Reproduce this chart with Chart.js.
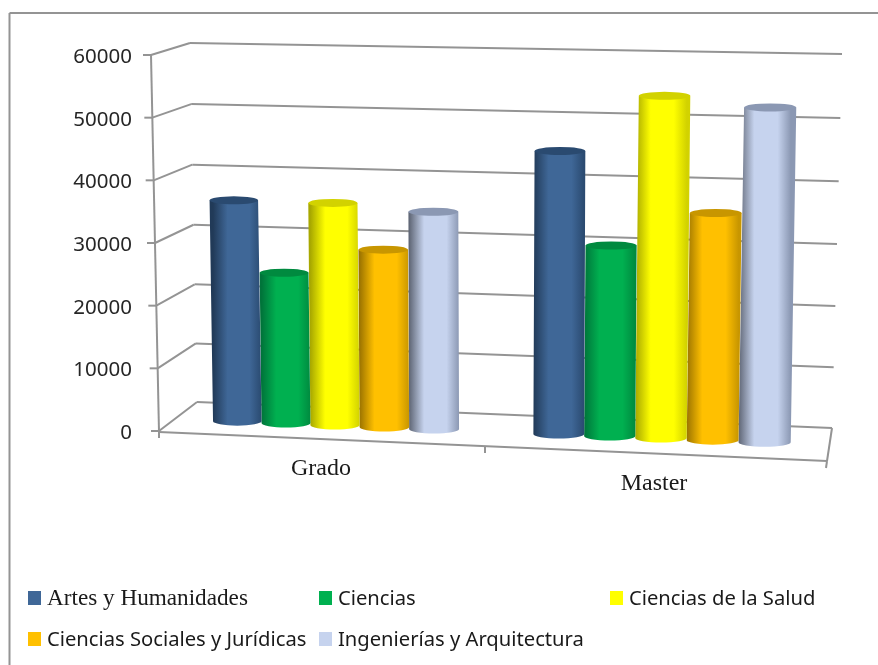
<!DOCTYPE html>
<html>
<head>
    <meta charset="utf-8">
    <title>Grado y Master</title>
    <script src="https://cdn.jsdelivr.net/npm/chart.js"></script>
    <style>
        body { margin: 0; background: white; }
        canvas { display: block; }
    </style>
</head>
<body>
    <canvas id="chart" width="878" height="665"></canvas>
    <script>
        const categories = ['Grado', 'Master'];
        const seriesNames = ['Artes y Humanidades', 'Ciencias', 'Ciencias de la Salud', 'Ciencias Sociales y Jurídicas', 'Ingenierías y Arquitectura'];
        const artes = [35800, 45000];
        const ciencias = [24300, 30200];
        const salud = [35800, 54100];
        const sociales = [28500, 35800];
        const ingenierias = [34800, 52600];
        const tickStep = 10000;
        const tickMax = 60000;

        const seriesValues = [artes, ciencias, salud, sociales, ingenierias];
        const colors = ['#3f6797', '#00b050', '#ffff00', '#ffc000', '#c6d3ee'];
        const edgeColors = ['#213a58', '#00743a', '#a8a800', '#9c7400', '#5f6675'];
        const capColors = ['#2a4a70', '#008a3f', '#d2d200', '#c89600', '#8b98b3'];

        const plotTop = 55, plotBottom = 431;
        const lineColor = '#949494';

        // the plot is a flat Chart.js area, this tilts it to the plane the cylinders stand on
        function project(x, y) {
            const bent = x + 6.9e-5 * (x - 498) * (x - 498) - 1.83;
            const up = plotBottom - y;
            const X = 490 + (bent - 490) * (1 + 0.023 * up / (plotBottom - plotTop));
            const floor = 421 + (bent - 234) * 0.04;
            const k = (370 + (bent - 234) * 0.0224) / 376;
            return { x: X, y: floor - up * k };
        }

        class CylinderBar extends Chart.BarElement {
            static id = 'cylinderBar';
            draw(ctx) {
                const i = colors.indexOf(this.options.backgroundColor);
                const half = this.width / 2;
                const bottom = project(this.x, this.base);
                const top = project(this.x, this.y);
                const rx = (project(this.x + half, this.base).x - project(this.x - half, this.base).x) / 2;

                const grad = ctx.createLinearGradient(bottom.x - rx, 0, bottom.x + rx, 0);
                grad.addColorStop(0, edgeColors[i]);
                grad.addColorStop(0.3, colors[i]);
                grad.addColorStop(0.75, colors[i]);
                grad.addColorStop(1, capColors[i]);

                ctx.save();
                ctx.fillStyle = grad;
                ctx.beginPath();
                ctx.moveTo(top.x - rx, top.y);
                ctx.lineTo(top.x + rx, top.y);
                ctx.lineTo(bottom.x + rx, bottom.y);
                ctx.ellipse(bottom.x, bottom.y, rx, 4.5, 0, 0, Math.PI);
                ctx.closePath();
                ctx.fill();

                ctx.fillStyle = capColors[i];
                ctx.beginPath();
                ctx.ellipse(top.x, top.y, rx, 4, 0, 0, Math.PI * 2);
                ctx.fill();
                ctx.restore();
            }
        }

        class CylinderController extends Chart.BarController {
            static id = 'cylinder';
            static defaults = { ...Chart.BarController.defaults, dataElementType: 'cylinderBar' };
        }

        Chart.register(CylinderBar, CylinderController);

        // ===== WALLS, FLOOR AND GRID =====
        const frame = {
            id: 'frame',
            beforeDatasetsDraw(chart) {
                const { ctx, scales } = chart;
                const line = (x1, y1, x2, y2) => {
                    ctx.beginPath();
                    ctx.moveTo(x1, y1);
                    ctx.lineTo(x2, y2);
                    ctx.stroke();
                };
                ctx.save();
                ctx.strokeStyle = lineColor;
                ctx.lineWidth = 2;
                line(9.5, 13, 878, 13);
                line(9.5, 13, 9.5, 665);

                line(151, 55, 159, 432);
                scales.y.ticks.forEach(t => {
                    const f = t.value / tickMax;
                    const bow = f * (1 - f);
                    const frontY = scales.y.getPixelForValue(t.value);
                    const frontX = 159 - 8 * f;
                    const backLeft = { x: 197 - 7 * f, y: 402 - 359 * f + 9 * bow };
                    const backRight = { x: 832 + 10 * f, y: 428 - 374 * f + 12 * bow };
                    line(frontX - 8, frontY, frontX, frontY);
                    line(frontX, frontY, backLeft.x, backLeft.y);
                    line(backLeft.x, backLeft.y, backRight.x, backRight.y);
                });

                // floor front edge and its ticks
                line(159, 432, 827, 461);
                line(827, 461, 832, 428);
                line(159, 432, 159, 438);
                line(485, 447, 485, 453);
                line(827, 461, 826, 468);
                ctx.restore();
            }
        };

        // ===== CATEGORY LABELS AND LEGEND =====
        const texts = {
            id: 'texts',
            afterDraw(chart) {
                const { ctx, scales } = chart;
                const serif = '"Liberation Serif", serif';
                const sans = '"Noto Sans", sans-serif';
                ctx.save();
                ctx.fillStyle = '#1a1a1a';
                ctx.textBaseline = 'middle';
                ctx.textAlign = 'center';
                ctx.font = '24px ' + serif;
                categories.forEach((name, i) => {
                    const x = 321 + (scales.x.getPixelForTick(i) - 335) * 1.0215;
                    ctx.fillText(name, x, 432 + (x - 159) * 0.0434 + 30);
                });

                ctx.textAlign = 'left';
                const slots = [[28, 598], [319, 598], [610, 598], [28, 639], [319, 639]];
                chart.data.datasets.forEach((ds, i) => {
                    const [x, y] = slots[i];
                    ctx.fillStyle = ds.backgroundColor;
                    ctx.fillRect(x, y - 7, 13, 14);
                    ctx.fillStyle = '#1a1a1a';
                    ctx.font = (i === 0 ? '23.2px ' + serif : '20.2px ' + sans);
                    ctx.fillText(ds.label, x + 19, y + 1);
                });
                ctx.restore();
            }
        };

        new Chart(document.getElementById('chart'), {
            type: 'cylinder',
            data: {
                labels: categories,
                datasets: seriesNames.map((name, i) => ({
                    label: name,
                    data: seriesValues[i],
                    backgroundColor: colors[i],
                    clip: false
                }))
            },
            plugins: [frame, texts],
            options: {
                responsive: false,
                animation: false,
                categoryPercentage: 0.772,
                barPercentage: 1,
                layout: { padding: { top: plotTop, bottom: 665 - plotBottom, right: 54 } },
                plugins: { legend: { display: false }, tooltip: { enabled: false } },
                scales: {
                    x: {
                        type: 'category',
                        afterFit(scale) { scale.height = 0; },
                        grid: { display: false },
                        border: { display: false },
                        ticks: { display: false }
                    },
                    y: {
                        min: 0,
                        max: tickMax,
                        afterFit(scale) { scale.width = 172; },
                        grid: { display: false },
                        border: { display: false },
                        ticks: {
                            stepSize: tickStep,
                            padding: 32,
                            labelOffset: 2,
                            color: '#262626',
                            font: { family: '"Noto Sans", sans-serif', size: 20.5 },
                            callback: v => String(v)
                        }
                    }
                }
            }
        });
    </script>
</body>
</html>
